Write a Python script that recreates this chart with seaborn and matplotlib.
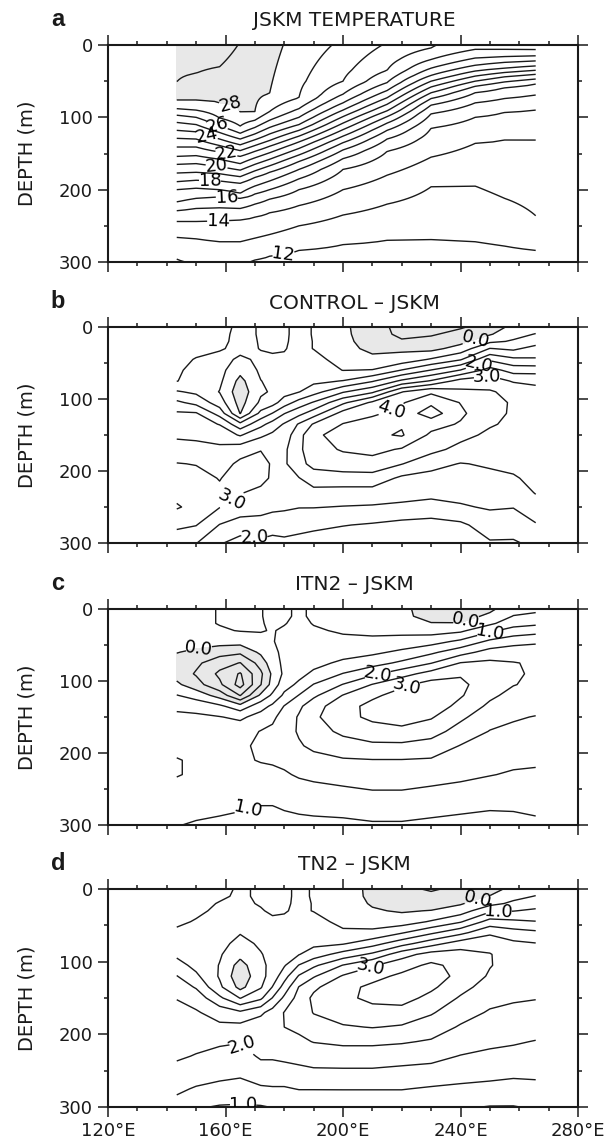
import numpy as np
import matplotlib
matplotlib.use("Agg")
import matplotlib.pyplot as plt
import seaborn as sns

# ---------------- data ----------------
# Panel a: JSKM temperature -- isotherm depths (m) read at these longitudes
lon_a = [143.4, 150, 158, 165, 170, 175, 185, 200, 215, 230, 245, 255, 265.6]
sst_a = [29.5, 29.5, 29.4, 28.95, 28.7, 28.35, 27.6, 26.8, 25.9, 25.1, 24.3, 24.2, 24.15]
t320_a = [11.6, 11.7, 11.75, 11.7, 11.6, 11.5, 11.4, 11.3, 11.3, 11.3, 11.3, 11.35, 11.4]
N = None
iso29 = [51, 39, 30, N, N, N, N, N, N, N, N, N, N]
iso28 = [76, 76, 80, 93, 92, 67, N, N, N, N, N, N, N]
iso27 = [88, 90, 101, 112, 104, 92, 73, N, N, N, N, N, N]
iso26 = [97, 100, 112, 122, 114, 104, 88, 50, N, N, N, N, N]
iso25 = [107, 110, 121, 130, 123, 114, 100, 68, 35, 4, N, N, N]
iso24 = [118, 120, 130, 138, 131, 123, 110, 80, 52, 20, 6, 6, 7]
iso23 = [129, 130, 139, 146, 139, 132, 118, 90, 63, 32, 18, 16, 15]
iso22 = [141, 141, 148, 154, 147, 140, 126, 99, 73, 42, 28, 24, 22]
iso21 = [154, 153, 158, 164, 156, 149, 134, 108, 82, 50, 36, 32, 29]
iso20 = [165, 164, 168, 173, 165, 158, 143, 117, 91, 58, 43, 38, 35]
iso19 = [177, 176, 178, 182, 174, 167, 152, 126, 99, 66, 50, 44, 40.5]
iso18 = [189, 187, 188, 191, 183, 176, 161, 135, 108, 74, 57, 51, 47]
iso17 = [200, 198, 200, 205, 195, 188, 172, 145, 118, 83, 66, 59, 54]
iso16 = [217, 212, 210, 212, 206, 200, 185, 157, 130, 95, 80, 74, 69]
iso15 = [229, 226, 225, 226, 220, 213, 200, 172, 147, 115, 100, 93, 90]
iso14 = [244, 244, 243, 242, 238, 232, 222, 200, 180, 155, 136, 131, 131]
iso13 = [266, 268, 272, 272, 267, 262, 250, 235, 220, 196, 195, 212, 236]
iso12 = [296, 303, 306, 303, 297, 292, 284, 276, 270, 269, 272, 278, 284]

# Panels b-d: model minus JSKM (deg C); one profile per longitude, values at dep_d
lon_d = [143.4, 150, 158, 165, 172, 176, 180, 185, 190, 200, 210, 220, 230, 240, 250, 258, 265.6]
dep_d = [0, 10, 20, 30, 45, 60, 75, 90, 105, 120, 135, 150, 170, 190, 210, 230, 250, 275, 300]

control_minus_jskm = [
    [0.3, 0.3, 0.35, 0.35, 0.4, 0.45, 0.48, 1.05, 1.6, 2.07, 2.25, 2.42, 2.7, 3.02, 3.15, 3.35, 3.55, 3.1, 2.7],
    [0.35, 0.35, 0.35, 0.4, 0.52, 0.6, 0.75, 0.9, 1.35, 2.05, 2.2, 2.4, 2.65, 2.98, 3.15, 3.3, 3.35, 3.02, 2.52],
    [0.35, 0.4, 0.42, 0.47, 0.6, 0.65, 0.6, 0.48, 0.75, 1.3, 1.98, 2.3, 2.6, 2.8, 2.98, 3.08, 3.02, 2.48, 2.05],
    [0.6, 0.6, 0.6, 0.58, 0.45, 0.15, -0.15, -0.3, -0.2, -0.02, 1.15, 1.95, 2.8, 3.1, 3.2, 3.02, 2.75, 2.3, 1.8],
    [0.47, 0.47, 0.48, 0.49, 0.55, 0.58, 0.49, 0.42, 0.6, 1.15, 1.85, 2.4, 2.98, 3.15, 3.1, 2.92, 2.68, 2.3, 1.9],
    [0.4, 0.4, 0.42, 0.46, 0.55, 0.6, 0.6, 0.56, 0.8, 1.52, 2.2, 2.6, 2.9, 2.95, 2.95, 2.85, 2.62, 2.2, 1.85],
    [0.45, 0.45, 0.46, 0.48, 0.55, 0.62, 0.7, 0.8, 1.25, 1.98, 2.55, 2.75, 2.9, 2.92, 2.9, 2.8, 2.58, 2.2, 1.9],
    [0.6, 0.6, 0.6, 0.6, 0.65, 0.72, 0.82, 0.98, 1.7, 2.35, 3.05, 3.3, 3.4, 3.35, 2.98, 2.8, 2.52, 2.15, 1.85],
    [0.48, 0.48, 0.49, 0.49, 0.62, 0.75, 0.88, 1.3, 2.05, 2.75, 3.55, 3.95, 3.8, 3.65, 3.25, 2.85, 2.52, 2.1, 1.8],
    [0.1, 0.12, 0.15, 0.2, 0.35, 0.49, 1.02, 1.95, 2.9, 3.7, 4.02, 4.1, 4.05, 3.75, 3.3, 2.8, 2.48, 2.02, 1.7],
    [-0.3, -0.3, -0.25, -0.15, 0.15, 0.52, 1.45, 2.4, 3.6, 3.9, 4.25, 4.4, 4.15, 3.8, 3.3, 2.8, 2.45, 1.95, 1.65],
    [-0.65, -0.6, -0.45, -0.1, 0.2, 1.02, 2.1, 3.48, 3.95, 4.2, 4.45, 4.55, 3.95, 3.52, 2.9, 2.7, 2.4, 1.85, 1.6],
    [-0.7, -0.55, -0.35, -0.15, 0.55, 1.52, 2.55, 3.9, 4.4, 4.75, 4.2, 3.9, 3.65, 3.15, 2.85, 2.7, 2.25, 1.85, 1.55],
    [-0.55, -0.35, -0.15, 0.2, 0.95, 2.02, 3.2, 3.6, 3.98, 4.1, 3.95, 3.65, 3.35, 2.98, 2.8, 2.65, 2.45, 1.9, 1.5],
    [-0.3, -0.05, 0.4, 1.02, 1.9, 2.7, 3.25, 3.55, 3.65, 3.62, 3.55, 3.4, 3.25, 3.05, 2.9, 2.75, 2.55, 2.25, 1.95],
    [0.15, 0.35, 0.55, 0.9, 1.6, 2.3, 2.95, 3.35, 3.45, 3.45, 3.4, 3.3, 3.15, 3.05, 2.98, 2.8, 2.52, 2.2, 1.95],
    [0.3, 0.52, 0.75, 1.2, 1.55, 2.3, 2.9, 3.15, 3.25, 3.3, 3.28, 3.22, 3.15, 3.1, 3.05, 3.02, 2.85, 2.45, 2.1],
]

itn2_minus_jskm = [
    [0.3, 0.3, 0.3, 0.3, 0.2, 0.02, -0.2, -0.2, 0.1, 0.52, 0.9, 1.1, 1.3, 1.4, 1.52, 1.52, 1.4, 1.2, 1.02],
    [0.4, 0.4, 0.4, 0.35, 0.2, -0.1, -0.4, -0.55, -0.3, 0.3, 0.8, 1.1, 1.3, 1.4, 1.45, 1.45, 1.35, 1.15, 0.95],
    [0.52, 0.52, 0.52, 0.45, 0.2, -0.3, -0.8, -1.1, -0.9, -0.2, 0.6, 1.02, 1.3, 1.4, 1.45, 1.4, 1.3, 1.1, 0.9],
    [0.6, 0.6, 0.6, 0.52, 0.2, -0.4, -1.02, -1.55, -1.7, -1.02, 0.2, 0.9, 1.3, 1.45, 1.45, 1.4, 1.25, 1.05, 0.85],
    [0.52, 0.52, 0.52, 0.52, 0.4, 0.1, -0.3, -0.6, -0.52, 0.1, 0.8, 1.2, 1.52, 1.55, 1.52, 1.4, 1.25, 0.98, 0.8],
    [0.4, 0.4, 0.45, 0.48, 0.48, 0.4, 0.3, 0.1, 0.2, 0.6, 1.1, 1.4, 1.6, 1.6, 1.55, 1.4, 1.25, 0.98, 0.8],
    [0.45, 0.45, 0.48, 0.55, 0.6, 0.6, 0.6, 0.6, 0.8, 1.1, 1.52, 1.7, 1.8, 1.75, 1.6, 1.45, 1.3, 1.05, 0.8],
    [0.55, 0.55, 0.6, 0.6, 0.65, 0.7, 0.75, 0.85, 1.1, 1.52, 1.9, 2.05, 2.05, 1.95, 1.75, 1.55, 1.35, 1.1, 0.85],
    [0.45, 0.45, 0.48, 0.55, 0.65, 0.75, 0.85, 1.1, 1.52, 1.9, 2.3, 2.4, 2.3, 2.1, 1.85, 1.6, 1.4, 1.1, 0.9],
    [0.3, 0.3, 0.35, 0.45, 0.6, 0.8, 1.1, 1.52, 2.02, 2.52, 2.8, 2.85, 2.6, 2.3, 1.95, 1.7, 1.45, 1.15, 0.9],
    [0.2, 0.2, 0.3, 0.4, 0.6, 0.9, 1.3, 1.9, 2.52, 2.9, 3.15, 3.1, 2.8, 2.4, 1.98, 1.75, 1.52, 1.2, 0.95],
    [0.1, 0.1, 0.2, 0.35, 0.7, 1.1, 1.6, 2.3, 2.9, 3.2, 3.35, 3.25, 2.85, 2.4, 1.98, 1.75, 1.52, 1.2, 0.95],
    [-0.2, -0.15, 0.02, 0.3, 0.8, 1.4, 1.98, 2.7, 3.2, 3.4, 3.3, 3.05, 2.7, 2.3, 1.95, 1.7, 1.45, 1.15, 0.9],
    [-0.3, -0.2, 0.02, 0.4, 1.1, 1.8, 2.52, 2.95, 3.1, 3.05, 2.85, 2.6, 2.3, 1.98, 1.8, 1.6, 1.4, 1.1, 0.85],
    [-0.1, 0.1, 0.4, 0.9, 1.6, 2.2, 2.6, 2.75, 2.75, 2.6, 2.4, 2.2, 1.98, 1.8, 1.65, 1.52, 1.3, 1.05, 0.8],
    [0.3, 0.52, 0.8, 1.2, 1.8, 2.3, 2.52, 2.55, 2.52, 2.35, 2.2, 2.05, 1.9, 1.75, 1.6, 1.45, 1.3, 1.05, 0.85],
    [0.4, 0.6, 0.9, 1.3, 1.9, 2.3, 2.45, 2.45, 2.4, 2.3, 2.15, 1.98, 1.85, 1.7, 1.55, 1.45, 1.3, 1.1, 0.9],
]

tn2_minus_jskm = [
    [0.3, 0.3, 0.35, 0.4, 0.45, 0.55, 0.7, 0.9, 1.2, 1.52, 1.8, 1.98, 2.15, 2.2, 2.15, 2.05, 1.9, 1.6, 1.3],
    [0.35, 0.35, 0.4, 0.45, 0.52, 0.55, 0.6, 0.7, 0.85, 1.1, 1.45, 1.8, 2.05, 2.15, 2.1, 1.98, 1.8, 1.45, 1.05],
    [0.4, 0.45, 0.52, 0.55, 0.6, 0.6, 0.6, 0.55, 0.48, 0.45, 0.6, 1.1, 1.8, 2.1, 2.05, 1.9, 1.7, 1.35, 0.96],
    [0.55, 0.55, 0.55, 0.55, 0.55, 0.52, 0.4, 0.15, -0.2, -0.35, -0.15, 0.48, 1.6, 2.15, 2.02, 1.85, 1.65, 1.28, 0.95],
    [0.45, 0.45, 0.48, 0.52, 0.55, 0.58, 0.55, 0.48, 0.4, 0.35, 0.45, 0.9, 1.9, 2.3, 2.2, 2.05, 1.85, 1.42, 0.96],
    [0.4, 0.4, 0.42, 0.46, 0.55, 0.6, 0.6, 0.6, 0.62, 0.7, 1.02, 1.52, 2.2, 2.4, 2.25, 2.05, 1.85, 1.45, 1.02],
    [0.45, 0.45, 0.46, 0.48, 0.55, 0.62, 0.7, 0.8, 0.95, 1.3, 1.7, 2.1, 2.52, 2.5, 2.3, 2.1, 1.85, 1.45, 1.05],
    [0.55, 0.55, 0.55, 0.55, 0.6, 0.7, 0.8, 0.98, 1.52, 2.05, 2.52, 2.7, 2.75, 2.6, 2.4, 2.15, 1.9, 1.52, 1.1],
    [0.48, 0.48, 0.49, 0.49, 0.6, 0.72, 0.88, 1.25, 1.9, 2.45, 2.9, 3.1, 3.02, 2.8, 2.52, 2.2, 1.95, 1.52, 1.1],
    [0.2, 0.22, 0.25, 0.3, 0.42, 0.55, 0.95, 1.7, 2.52, 3.05, 3.35, 3.4, 3.25, 2.95, 2.6, 2.25, 1.95, 1.52, 1.15],
    [-0.1, -0.1, -0.05, 0.05, 0.3, 0.6, 1.3, 2.1, 2.95, 3.35, 3.6, 3.6, 3.35, 3.02, 2.6, 2.25, 1.95, 1.52, 1.15],
    [-0.4, -0.35, -0.25, -0.05, 0.25, 0.95, 1.8, 2.8, 3.3, 3.6, 3.75, 3.7, 3.3, 2.95, 2.55, 2.2, 1.9, 1.52, 1.15],
    [-0.55, -0.4, -0.25, 0.02, 0.55, 1.4, 2.3, 3.2, 3.6, 3.85, 3.6, 3.35, 3.05, 2.75, 2.45, 2.15, 1.85, 1.45, 1.1],
    [-0.4, -0.25, -0.05, 0.25, 0.95, 1.85, 2.75, 3.2, 3.35, 3.3, 3.15, 2.95, 2.7, 2.45, 2.25, 1.98, 1.75, 1.4, 1.05],
    [-0.2, 0.02, 0.35, 0.9, 1.7, 2.4, 2.85, 3.02, 3.02, 2.95, 2.8, 2.65, 2.45, 2.3, 2.1, 1.9, 1.7, 1.35, 0.98],
    [0.15, 0.35, 0.6, 0.98, 1.6, 2.2, 2.6, 2.8, 2.85, 2.8, 2.7, 2.55, 2.4, 2.25, 2.05, 1.85, 1.65, 1.3, 0.98],
    [0.3, 0.52, 0.75, 1.1, 1.52, 2.1, 2.52, 2.7, 2.75, 2.75, 2.65, 2.52, 2.35, 2.2, 1.98, 1.85, 1.65, 1.35, 1.05],
]

panel_letters = ["a", "b", "c", "d"]
panel_titles = ["JSKM TEMPERATURE", "CONTROL \u2013 JSKM", "ITN2 \u2013 JSKM", "TN2 \u2013 JSKM"]
xtick_vals = [120, 160, 200, 240, 280]
xtick_labels = ["120\u00b0E", "160\u00b0E", "200\u00b0E", "240\u00b0E", "280\u00b0E"]
ytick_vals = [0, 100, 200, 300]

# label anchor points (lon, depth) for each labelled contour level
labels_a = [(28, (161.5, 83)), (26, (157, 113)), (24, (153.6, 127)), (22, (160.4, 147)),
            (20, (157, 166)), (18, (154.7, 189)), (16, (160.4, 214)), (14, (157.5, 244)),
            (12, (179.7, 288))]
labels_b = [(0.0, (245, 16)), (2.0, (246, 48)), (3.0, (249, 66)), (4.0, (216, 108)),
            (3.0, (161.5, 234)), (2.0, (170, 284))]
labels_c = [(0.0, (151, 58)), (0.0, (242, 18)), (1.0, (250, 30)), (2.0, (212, 95)),
            (3.0, (222, 112)), (1.0, (168, 290))]
labels_d = [(0.0, (246, 20)), (1.0, (253, 30)), (3.0, (209, 100)), (2.0, (166, 212)),
            (1.0, (166, 294))]

# ---------------- style ----------------
sns.set_theme(style="ticks")
plt.rcParams['font.family'] = ['DejaVu Sans']
plt.rcParams['axes.linewidth'] = 1.5
plt.rcParams['text.color'] = 'black'
plt.rcParams['axes.labelcolor'] = 'black'
plt.rcParams['xtick.color'] = 'black'
plt.rcParams['ytick.color'] = 'black'
GRAY = "#e8e8e8"
LW = 1.0
LABEL_FS = 13

fig = plt.figure(figsize=(6.09, 11.39), dpi=100)
W, H = 609.0, 1139.0
panel_px = [(45, 262), (327, 543), (609, 825), (889, 1107)]
left_px, right_px = 108, 578
axes = []
for top, bot in panel_px:
    ax = fig.add_axes([left_px / W, 1 - bot / H, (right_px - left_px) / W, (bot - top) / H])
    axes.append(ax)


def style_axis(ax, last):
    ax.set_xlim(120, 280)
    ax.set_ylim(300, 0)
    ax.set_xticks(xtick_vals)
    ax.set_xticks(np.arange(120, 281, 10), minor=True)
    ax.set_yticks(ytick_vals)
    ax.set_yticks([50, 150, 250], minor=True)
    ax.set_yticklabels([str(v) for v in ytick_vals])
    if last:
        ax.set_xticklabels(xtick_labels)
    else:
        ax.set_xticklabels([])
    ax.tick_params(which='both', direction='out', top=True, right=True,
                   width=1.1, labelsize=13, color='k', labelcolor='k')
    ax.tick_params(which='major', length=7, pad=4)
    ax.tick_params(which='minor', length=3)
    for s in ax.spines.values():
        s.set_linewidth(1.5)
        s.set_color('k')
        s.set_visible(True)
    ax.set_facecolor('white')


def draw_contours(ax, x, y, Z, levels, label_specs, fmt):
    lab_levels = sorted(set(l for l, _ in label_specs))
    plain = [l for l in levels if not any(abs(l - q) < 1e-9 for q in lab_levels)]
    ax.contour(x, y, Z, levels=plain, colors='k', linewidths=LW, linestyles='solid')
    for lev in lab_levels:
        pts = [p for l, p in label_specs if abs(l - lev) < 1e-9]
        cs = ax.contour(x, y, Z, levels=[lev], colors='k', linewidths=LW, linestyles='solid')
        try:
            txts = ax.clabel(cs, manual=pts, fmt=fmt, inline=True, inline_spacing=3,
                             fontsize=LABEL_FS, colors='k')
            for t in txts:
                t.set_color('black')
        except Exception:
            pass


# ---- panel a ----
iso_table = [(29, iso29), (28, iso28), (27, iso27), (26, iso26), (25, iso25), (24, iso24),
             (23, iso23), (22, iso22), (21, iso21), (20, iso20), (19, iso19), (18, iso18),
             (17, iso17), (16, iso16), (15, iso15), (14, iso14), (13, iso13), (12, iso12)]
depth_fine = np.arange(0, 300.1, 2.0)
T = np.empty((len(depth_fine), len(lon_a)))
for j in range(len(lon_a)):
    dd = [0.0]
    tt = [sst_a[j]]
    for lev, arr in iso_table:
        if arr[j] is not None:
            dd.append(float(arr[j]))
            tt.append(float(lev))
    dd.append(320.0)
    tt.append(t320_a[j])
    T[:, j] = np.interp(depth_fine, dd, tt)

ax = axes[0]
ax.contourf(lon_a, depth_fine, T, levels=[28, 40], colors=[GRAY])
draw_contours(ax, lon_a, depth_fine, T, list(range(12, 30)), labels_a, '%d')
style_axis(ax, False)

# ---- panels b-d ----
fields = [control_minus_jskm, itn2_minus_jskm, tn2_minus_jskm]
label_sets = [labels_b, labels_c, labels_d]
levels_d = [round(v, 1) for v in np.arange(-3.0, 6.01, 0.5)]
for k, (ax, fld) in enumerate(zip(axes[1:], fields)):
    Z = np.array(fld, dtype=float).T   # rows = depth, cols = longitude
    ax.contourf(lon_d, dep_d, Z, levels=[-10, 0], colors=[GRAY])
    draw_contours(ax, lon_d, dep_d, Z, levels_d, label_sets[k], '%.1f')
    style_axis(ax, k == 2)

# ---- texts ----
for ax, (top, bot), letter, title in zip(axes, panel_px, panel_letters, panel_titles):
    fig.text(58 / W, 1 - (top - 26) / H, letter, fontsize=17, fontweight='bold',
             ha='center', va='center', color='k', family=['Liberation Sans', 'DejaVu Sans'])
    fig.text(354 / W, 1 - (top - 24) / H, title, fontsize=14.5, ha='center', va='center',
             color='k', family=['DejaVu Sans'])
    fig.text(27 / W, 1 - ((top + bot) / 2) / H, "DEPTH (m)", fontsize=14, rotation=90,
             ha='center', va='center', color='k')

fig.savefig("out.png", dpi=100)
